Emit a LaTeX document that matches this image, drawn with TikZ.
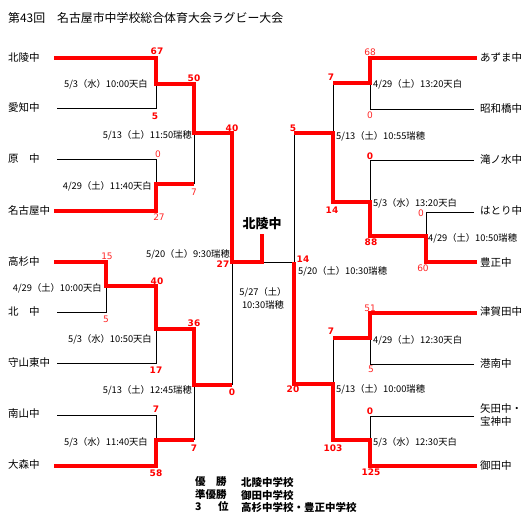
\documentclass[tikz,border=0pt]{standalone}
\usepackage{fontspec}
\setmainfont{Noto Sans CJK JP}
\newfontfamily\scfont{DejaVu Sans}
\begin{document}
\begin{tikzpicture}[x=1pt,y=-1pt,
  redln/.style={draw=red,line width=3.5pt,line join=miter},
  blkln/.style={draw=black,line width=1pt},
  team/.style={anchor=west,inner sep=0pt,font=\fontsize{10.5}{12}\selectfont},
  dateL/.style={anchor=east,inner sep=0pt,font=\fontsize{9.3}{11}\selectfont},
  dateR/.style={anchor=west,inner sep=0pt,font=\fontsize{9.3}{11}\selectfont},
  scb/.style={inner sep=0pt,text=red,font=\scfont\bfseries\fontsize{9}{10}\selectfont},
  scr/.style={inner sep=0pt,text=red!85,font=\scfont\fontsize{9}{10}\selectfont},
  res/.style={anchor=west,inner sep=0pt,font=\bfseries\fontsize{10.5}{12}\selectfont}]
\useasboundingbox (0,0) rectangle (531,522);
\fill[white] (0,0) rectangle (531,522);

\node[anchor=west,inner sep=0pt,font=\fontsize{11.9}{13}\selectfont] (title) at (8,18) {第43回　名古屋市中学校総合体育大会ラグビー大会};

% left teams
\node[team] (tl1) at (8,58) {北陵中};
\node[team] (tl2) at (8,108) {愛知中};
\node[team] (tl3) at (8,159) {原　中};
\node[team] (tl4) at (8,211) {名古屋中};
\node[team] (tl5) at (8,262) {高杉中};
\node[team] (tl6) at (8,312) {北　中};
\node[team] (tl7) at (8,363) {守山東中};
\node[team] (tl8) at (8,414) {南山中};
\node[team] (tl9) at (8,465) {大森中};
% right teams
\node[team] (tr1) at (480,58) {あずま中};
\node[team] (tr2) at (480,109) {昭和橋中};
\node[team] (tr3) at (480,160) {滝ノ水中};
\node[team] (tr4) at (480,211) {はとり中};
\node[team] (tr5) at (480,262) {豊正中};
\node[team] (tr6) at (480,312) {津賀田中};
\node[team] (tr7) at (480,364) {港南中};
\node[team,align=left,font=\fontsize{10.5}{13}\selectfont] (tr8) at (480,415) {矢田中・\\宝神中};
\node[team] (tr9) at (480,466) {御田中};

% line start points
\coordinate (a1) at (54,58);  \coordinate (a2) at (57,108);
\coordinate (a3) at (57,159); \coordinate (a4) at (54,211);
\coordinate (a5) at (54,262); \coordinate (a6) at (57,312);
\coordinate (a7) at (57,363); \coordinate (a8) at (57,415);
\coordinate (a9) at (54,466);
\coordinate (b1) at (477,58);  \coordinate (b2) at (474,109);
\coordinate (b3) at (474,160); \coordinate (b4) at (474,212);
\coordinate (b5) at (477,262); \coordinate (b6) at (477,313);
\coordinate (b7) at (474,364); \coordinate (b8) at (474,416);
\coordinate (b9) at (477,466);
% junctions
\coordinate (j1) at (156,84);
\coordinate (j2) at (156,184);
\coordinate (k1) at (194,133);
\coordinate (j3) at (106,286);
\coordinate (j4) at (156,329);
\coordinate (k2) at (194,385);
\coordinate (j5) at (156,440);
\coordinate (s1) at (232,262);
\coordinate (f)  at (262,262);
\coordinate (fw) at (262,234);
\coordinate (s2) at (294,262);
\coordinate (r1) at (370,83);
\coordinate (r2) at (426,236);
\coordinate (r3) at (370,202);
\coordinate (q1) at (333,133);
\coordinate (r4) at (370,338);
\coordinate (r5) at (370,440);
\coordinate (q2) at (333,384);

% black lines
\draw[blkln] (a2) -| (j1);
\draw[blkln] (a3) -| (j2);
\draw[blkln] (j2 -| k1) -- (k1);
\draw[blkln] (a6) -| (j3);
\draw[blkln] (a7) -| (j4);
\draw[blkln] (a8) -| (j5);
\draw[blkln] (j5 -| k2) -- (k2);
\draw[blkln] (k2 -| s1) -- (s1);
\draw[blkln] (f) -- (s2) -- (q1 -| s2);
\draw[blkln] (b2) -| (r1);
\draw[blkln] (r1 -| q1) -- (q1);
\draw[blkln] (b3) -| (r3);
\draw[blkln] (b4) -| (r2);
\draw[blkln] (b7) -| (r4);
\draw[blkln] (r4 -| q2) -- (q2);
\draw[blkln] (b8) -| (r5);

% red lines
\draw[redln] (a1) -| (j1) -| (k1) -| (s1) -- (f) -- (fw);
\draw[redln] (a4) -| (j2) -- (j2 -| k1);
\draw[redln] (a5) -| (j3) -| (j4) -| (k2) -- (k2 -| s1);
\draw[redln] (a9) -| (j5) -- (j5 -| k2);
\draw[redln] (b1) -| (r1) -- (r1 -| q1);
\draw[redln] (b5) -| (r2) -| (r3) -| (q1) -- (q1 -| s2);
\draw[redln] (b6) -| (r4) -- (r4 -| q2);
\draw[redln] (b9) -| (r5) -| (q2) -| (s2);

% winner
\node[inner sep=0pt,font=\bfseries\fontsize{13}{15}\selectfont] (win) at (262,224) {北陵中};

% dates left
\node[dateL] (d1) at (148,84) {5/3（水）10:00天白};
\node[dateL] (d2) at (192,135) {5/13（土）11:50瑞穂};
\node[dateL] (d3) at (152,186) {4/29（土）11:40天白};
\node[dateL] (d4) at (230,254) {5/20（土）9:30瑞穂};
\node[dateL] (d5) at (102,288) {4/29（土）10:00天白};
\node[dateL] (d6) at (152,339) {5/3（水）10:50天白};
\node[dateL] (d7) at (192,390) {5/13（土）12:45瑞穂};
\node[dateL] (d8) at (148,442) {5/3（水）11:40天白};
% dates right
\node[dateR] (e1) at (373,84) {4/29（土）13:20天白};
\node[dateR] (e2) at (336,136) {5/13（土）10:55瑞穂};
\node[dateR] (e3) at (373,203) {5/3（水）13:20天白};
\node[dateR] (e4) at (428,238) {4/29（土）10:50瑞穂};
\node[dateR] (e5) at (298,271) {5/20（土）10:30瑞穂};
\node[dateR] (e6) at (373,340) {4/29（土）12:30天白};
\node[dateR] (e7) at (336,389) {5/13（土）10:00瑞穂};
\node[dateR] (e8) at (373,442) {5/3（水）12:30天白};
\node[inner sep=0pt,align=center,font=\fontsize{9.3}{13}\selectfont] (dc) at (263,298) {5/27（土）\\10:30瑞穂};

% scores left
\node[scb] (n1) at (157,51) {67};
\node[scb] (n2) at (155,116) {5};
\node[scb] (n3) at (194,78) {50};
\node[scr] (n4) at (158,154) {0};
\node[scr] (n5) at (194,192) {7};
\node[scr] (n6) at (159,217) {27};
\node[scb] (n7) at (232,128) {40};
\node[scb] (n8) at (223,264) {27};
\node[scr] (n9) at (107,256) {15};
\node[scb] (n10) at (157,281) {40};
\node[scr] (n11) at (106,319) {5};
\node[scb] (n12) at (194,323) {36};
\node[scb] (n13) at (156,370) {17};
\node[scb] (n14) at (232,392) {0};
\node[scb] (n15) at (156,409) {7};
\node[scb] (n16) at (194,448) {7};
\node[scb] (n17) at (156,473) {58};
% scores right
\node[scr] (m1) at (370,52) {68};
\node[scb] (m2) at (331,77) {7};
\node[scr] (m3) at (370,115) {0};
\node[scb] (m4) at (293,128) {5};
\node[scb] (m5) at (370,156) {0};
\node[scb] (m6) at (332,210) {14};
\node[scr] (m7) at (421,213) {0};
\node[scb] (m8) at (371,242) {88};
\node[scr] (m9) at (423,268) {60};
\node[scb] (m10) at (303,259) {14};
\node[scr] (m11) at (370,308) {51};
\node[scb] (m12) at (331,331) {7};
\node[scr] (m13) at (371,369) {5};
\node[scb] (m14) at (293,389) {20};
\node[scb] (m15) at (370,411) {0};
\node[scb] (m16) at (333,448) {103};
\node[scb] (m17) at (371,472) {125};

% results
\node[res] (p1) at (195,482) {優　勝};
\node[res] (p2) at (195,495) {準優勝};
\node[res] (p3) at (195,507) {3};
\node[res] (p3b) at (218,507) {位};
\node[res] (q1t) at (241,482) {北陵中学校};
\node[res] (q2t) at (241,495) {御田中学校};
\node[res] (q3t) at (241,507) {高杉中学校・豊正中学校};
\end{tikzpicture}
\end{document}
